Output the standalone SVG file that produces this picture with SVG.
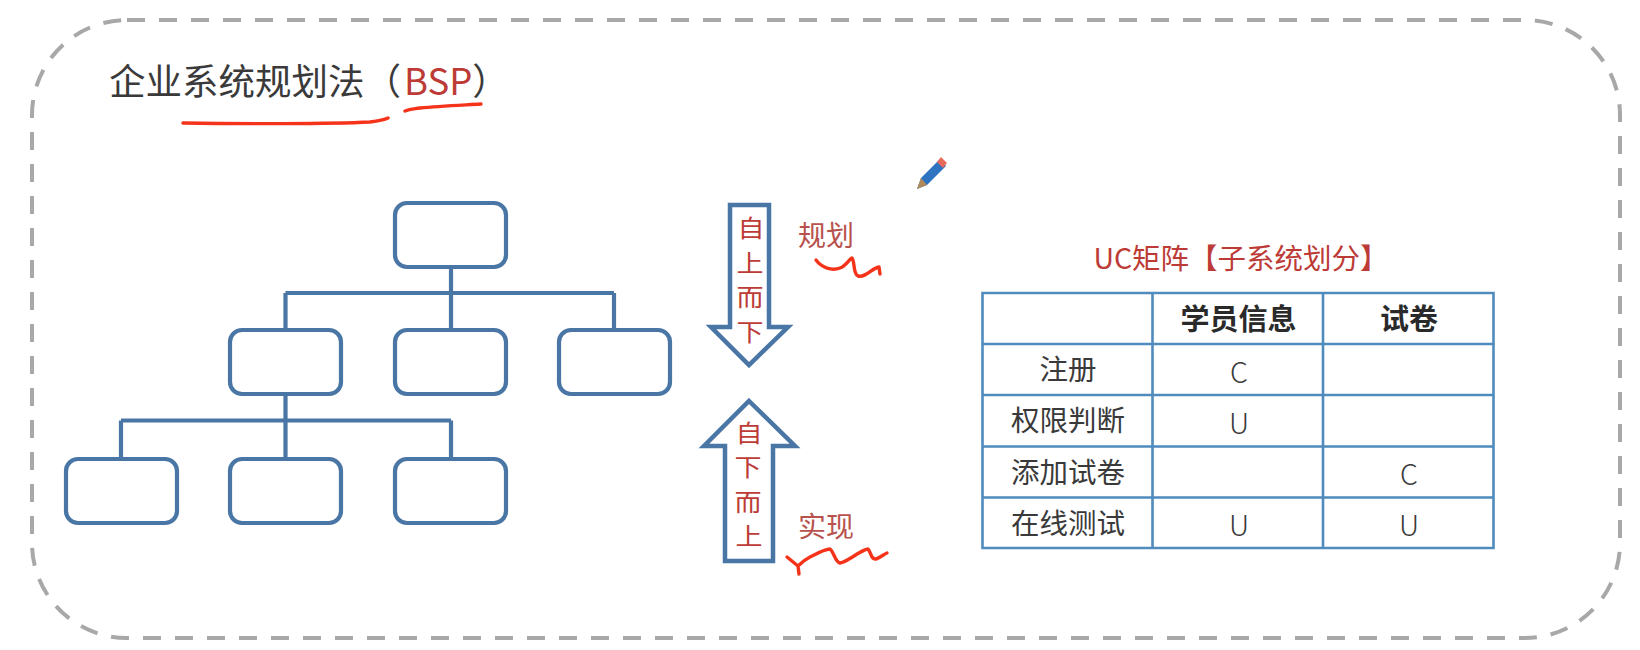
<svg xmlns="http://www.w3.org/2000/svg" width="1640" height="650" viewBox="0 0 1640 650">
<style>
text{font-family:"Noto Sans CJK SC","Noto Sans",sans-serif;text-anchor:middle}
.box{fill:#fff;stroke:#4a76a6;stroke-width:4.2}
.con{fill:none;stroke:#4a76a6;stroke-width:4.2}
.arr{fill:#fff;stroke:#4a76a6;stroke-width:4.5;stroke-linejoin:miter}
.red{fill:#bd3b36}
.ink{fill:#3a3a3a}
.pen{fill:none;stroke:#f5331a;stroke-width:3.4;stroke-linecap:round;stroke-linejoin:round}
.grid{stroke:#4f8bbd;stroke-width:2.6;fill:none}
.v{font-size:23.500px}
.t{font-size:28.500px}
.h{font-size:29px;font-weight:700;fill:#2a2a2a}
</style>
<rect id="frame" x="32" y="20" width="1588" height="618" rx="95" ry="95" fill="#fff" stroke="#a8a8a8" stroke-width="4" stroke-dasharray="18 14"/>
<g id="title">
<text x="109" y="95" font-size="36.500" class="ink" style="text-anchor:start">企业系统规划法（<tspan class="red" dx="3">BSP</tspan>）</text>
<path class="pen" d="M183 123C240 124 330 124 370 122C378 121 384 120 388 118"/>
<path class="pen" d="M405 111C410 109 414 109 420 108C440 106 465 105 481 104"/>
</g>
<g id="connectors">
<path class="con" d="M451 267V329M285.500 293H614M285.500 293V329M614 293V329"/>
<path class="con" d="M285.500 394V458M121 420.500H451M121 420.500V458M451 420.500V458"/>
</g>
<g id="n-root"><rect class="box" x="395" y="203" width="111" height="64" rx="12"/></g>
<g id="n-a"><rect class="box" x="230" y="330" width="111" height="64" rx="12"/></g>
<g id="n-b"><rect class="box" x="395" y="330" width="111" height="64" rx="12"/></g>
<g id="n-c"><rect class="box" x="559" y="330" width="111" height="64" rx="12"/></g>
<g id="n-d"><rect class="box" x="66" y="459" width="111" height="64" rx="12"/></g>
<g id="n-e"><rect class="box" x="230" y="459" width="111" height="64" rx="12"/></g>
<g id="n-f"><rect class="box" x="395" y="459" width="111" height="64" rx="12"/></g>
<g id="arrow-down">
<path class="arr" d="M730 205H769V327H788L749 365L711 327H730Z"/>
<g class="red v">
<text transform="translate(751 237) scale(1.15 1)">自</text>
<text transform="translate(750 272) scale(1.15 1)">上</text>
<text transform="translate(750 306) scale(1.15 1)">而</text>
<text transform="translate(750 341) scale(1.15 1)">下</text>
</g>
</g>
<g id="arrow-up">
<path class="arr" d="M749 401L795 446H773V561H725V446H704Z"/>
<g class="red v">
<text transform="translate(749 442) scale(1.15 1)">自</text>
<text transform="translate(748 476) scale(1.15 1)">下</text>
<text transform="translate(748 511) scale(1.15 1)">而</text>
<text transform="translate(749 545) scale(1.15 1)">上</text>
</g>
</g>
<g id="note-plan">
<text x="826" y="246" font-size="28" fill="#b8524e">规划</text>
<path class="pen" d="M816 260C822 268 832 271 840 268C846 266 850 258 852 258C855 262 853 274 858 276C866 278 872 268 879 267L880 274"/>
</g>
<g id="note-impl">
<text x="826" y="537" font-size="28" fill="#b8524e">实现</text>
<path class="pen" d="M787 557L798 566L799 574M798 566C803 561 806 559 810 557C816 554 825 549 830 549C834 552 835 562 840 563C848 562 860 550 868 549C871 552 871 560 876 559C880 558 884 554 887 553"/>
</g>
<g id="pencil">
<path d="M917 189L921 178L940 159L946 166L927 185Z" fill="#2f74c0"/>
<path d="M917 189L921 178L927 185Z" fill="#b08a5a"/>
<path d="M937 162L941 157L947 163L943 168Z" fill="#e86a5a"/>
</g>
<g id="uc-matrix">
<text x="1241" y="269" font-size="28.500" class="red">UC矩阵【子系统划分】</text>
<path class="grid" d="M982.500 293H1493.500V548H982.500ZM1152.500 293V548M1323 293V548M982.500 344H1493.500M982.500 395H1493.500M982.500 446.500H1493.500M982.500 497.500H1493.500"/>
<text class="h" x="1238.500" y="330">学员信息</text>
<text class="h" x="1409" y="330">试卷</text>
<g class="ink t">
<text x="1068" y="380">注册</text>
<text x="1068" y="431">权限判断</text>
<text x="1068" y="483">添加试卷</text>
<text x="1068" y="534">在线测试</text>
</g>
<g class="ink t" font-weight="300">
<text x="1239" y="383">C</text>
<text x="1239" y="434">U</text>
<text x="1409" y="485">C</text>
<text x="1239" y="536">U</text>
<text x="1409" y="536">U</text>
</g>
</g>
</svg>
